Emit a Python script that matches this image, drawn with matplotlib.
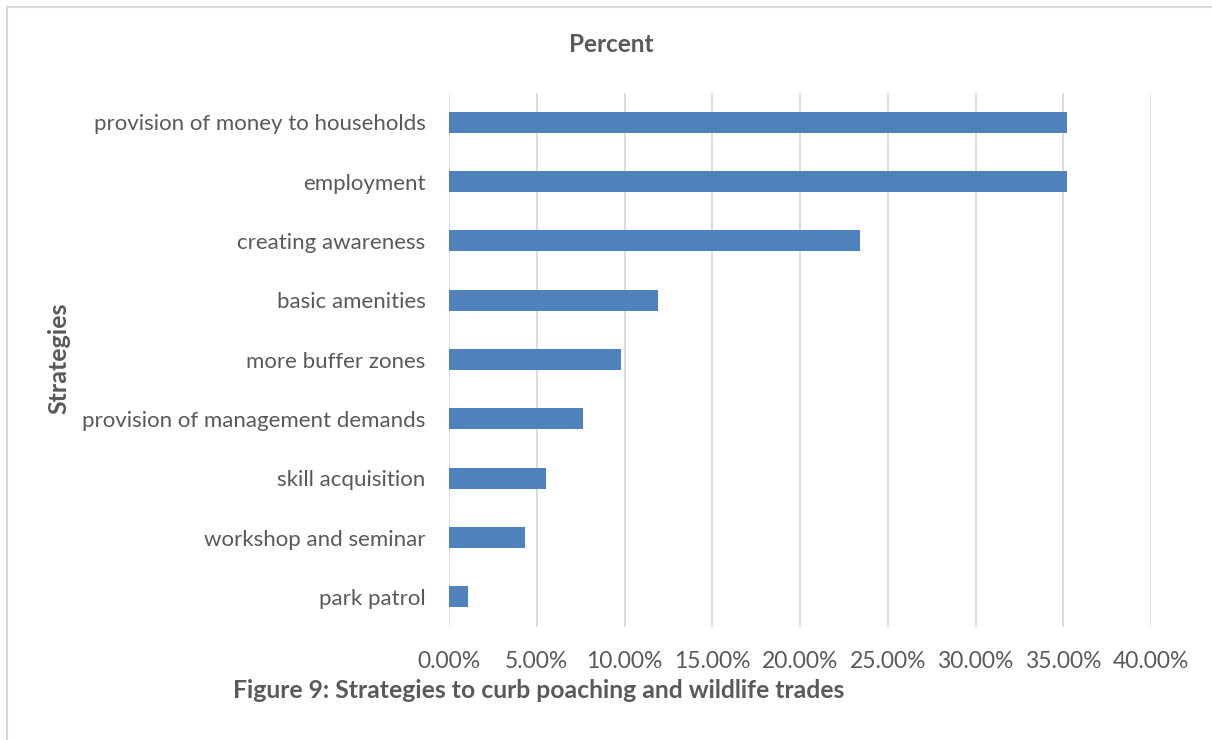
import matplotlib
matplotlib.use("Agg")
import matplotlib.pyplot as plt
from matplotlib.patches import Rectangle
from matplotlib.ticker import FuncFormatter

# data (percent)
strategies = ["provision of money to households", "employment", "creating awareness",
              "basic amenities", "more buffer zones", "provision of management demands",
              "skill acquisition", "workshop and seminar", "park patrol"]
percent = [35.2, 35.2, 23.4, 11.9, 9.8, 7.65, 5.5, 4.35, 1.1]
xticks = [0, 5, 10, 15, 20, 25, 30, 35, 40]

plt.rcParams['font.family'] = ['Lato', 'DejaVu Sans']
grey = "#595959"
blue = "#4f81bd"

fig = plt.figure(figsize=(12.12, 7.4), dpi=100)
ax = fig.add_axes([449/1212, 1 - 626.5/740, (1151-449)/1212, (626.5-92.5)/740])

ypos = list(range(len(strategies)))[::-1]
ax.barh(ypos, percent, height=0.35, color=blue, zorder=3)
ax.set_ylim(-0.5, len(strategies) - 0.5)
ax.set_xlim(0, 40)
ax.set_xticks(xticks)
ax.xaxis.set_major_formatter(FuncFormatter(lambda v, p: "%.2f%%" % v))
ax.set_yticks(ypos)
ax.set_yticklabels(strategies)
ax.grid(axis="x", color="#d9d9d9", linewidth=1.3, zorder=0)
for s in ax.spines.values():
    s.set_visible(False)
ax.tick_params(axis="both", length=0, colors=grey)
ax.tick_params(axis="y", pad=17, labelsize=16)
ax.tick_params(axis="x", pad=18, labelsize=16.5)

fig.text(611/1212, 1 - 44/740, "Percent", ha="center", va="center",
         fontsize=17.5, fontweight="bold", color=grey)
fig.text(59/1212, 1 - 358/740, "Strategies", ha="center", va="center", rotation=90,
         fontsize=18, fontweight="bold", color=grey)
fig.text(233/1212, 1 - 690/740, "Figure 9: Strategies to curb poaching and wildlife trades",
         ha="left", va="center", fontsize=17.8, fontweight="bold", color=grey)

# chart border (only left/top edges visible in the crop)
fig.patches.append(Rectangle((6.5/1212, -0.1), 1.2, 1 - 7.5/740 + 0.1, transform=fig.transFigure,
                             fill=False, edgecolor="#d9d9d9", linewidth=1.5))

fig.savefig("out.png", dpi=100)
